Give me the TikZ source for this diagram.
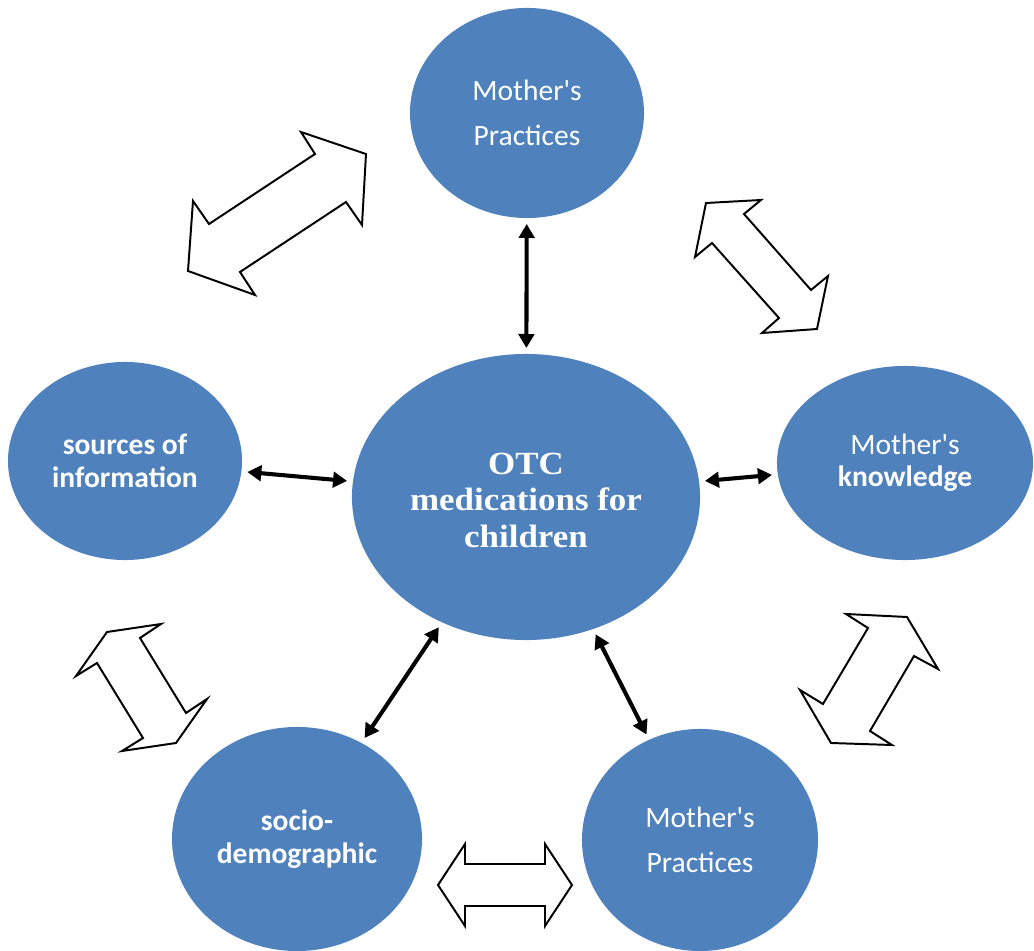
\documentclass[tikz,border=0pt]{standalone}
\usepackage{fontspec}
\newfontfamily\labfont{Carlito}
\newfontfamily\otcfont[FakeStretch=1.08]{Liberation Serif}
\usetikzlibrary{shapes.geometric,arrows.meta,positioning}
\definecolor{Bfill}{RGB}{79,129,189}
\tikzset{
    bubble/.style={
        ellipse, fill=Bfill, text=white, inner sep=0pt, align=center,
        font=\labfont\fontsize{21}{32}\selectfont
    },
    bubblebold/.style={bubble, font=\labfont\bfseries\fontsize{21}{23}\selectfont},
    thinarr/.style={{Triangle[length=10pt,width=11pt]}-{Triangle[length=10pt,width=11pt]},
        line width=2.9pt, black, shorten <=4pt, shorten >=4pt},
    hollow/.style={draw=black, line width=1.4pt, fill=white, line join=miter},
}

\begin{document}
\begin{tikzpicture}[x=0.025cm, y=-0.025cm]
    \useasboundingbox (0,0) rectangle (1034,951);

    % ── ellipses ───────────────────────────────────────
    \node [bubble, minimum width=8.7cm, minimum height=7.15cm,
        font=\otcfont\bfseries\fontsize{23}{26}\selectfont]
        (otc) at (526,497) {\rule{0pt}{20pt}OTC\\medications for\\children};

    \node [bubble, minimum width=5.85cm, minimum height=5.25cm]
        (prtop) at (527,113) {Mother's\\Practices};

    \node [bubblebold, minimum width=5.85cm, minimum height=4.95cm]
        (src) at (125,461) {sources of\\information};

    \node [bubble, minimum width=6.4cm, minimum height=4.85cm,
        font=\labfont\fontsize{21}{23}\selectfont]
        (know) at (905,463) {Mother's\\\textbf{knowledge}};

    \node [bubblebold, minimum width=6.25cm, minimum height=5.6cm]
        (socio) at (297,839) {socio-\\demographic};

    \node [bubble, minimum width=5.9cm, minimum height=5.55cm]
        (prbot) at (700,840) {Mother's\\Practices};

    % ── thin arrows ────────────────────────────────────
    \draw [thinarr] (otc) -- (prtop);
    \draw [thinarr] (otc) -- (src);
    \draw [thinarr] (otc) -- (know);
    \draw [thinarr] (otc) -- (socio);
    \draw [thinarr] (otc) -- (prbot);

    % ── hollow arrows ──────────────────────────────────
    \draw [hollow] (301,132) -- (315,154) -- (209,224) -- (193,201) -- (188,271)
        -- (255,295) -- (240,272) -- (346,202) -- (362,225) -- (366,154) -- cycle;
    \draw [hollow] (706,203) -- (761,200) -- (744,214) -- (811,290) -- (828,276)
        -- (817,329) -- (762,333) -- (779,318) -- (712,243) -- (695,257) -- cycle;
    \draw [hollow] (107,632) -- (161,624) -- (140,638) -- (186,713) -- (207,699)
        -- (176,743) -- (122,751) -- (143,738) -- (97,663) -- (76,676) -- cycle;
    \draw [hollow] (846,614) -- (907,617) -- (938,669) -- (914,656) -- (870,731)
        -- (892,745) -- (831,743) -- (800,690) -- (823,704) -- (868,628) -- cycle;
    \draw [hollow] (438,885) -- (465,844) -- (465,864) -- (545,864) -- (545,844)
        -- (572,885) -- (545,926) -- (545,906) -- (465,906) -- (465,926) -- cycle;

\end{tikzpicture}
\end{document}
